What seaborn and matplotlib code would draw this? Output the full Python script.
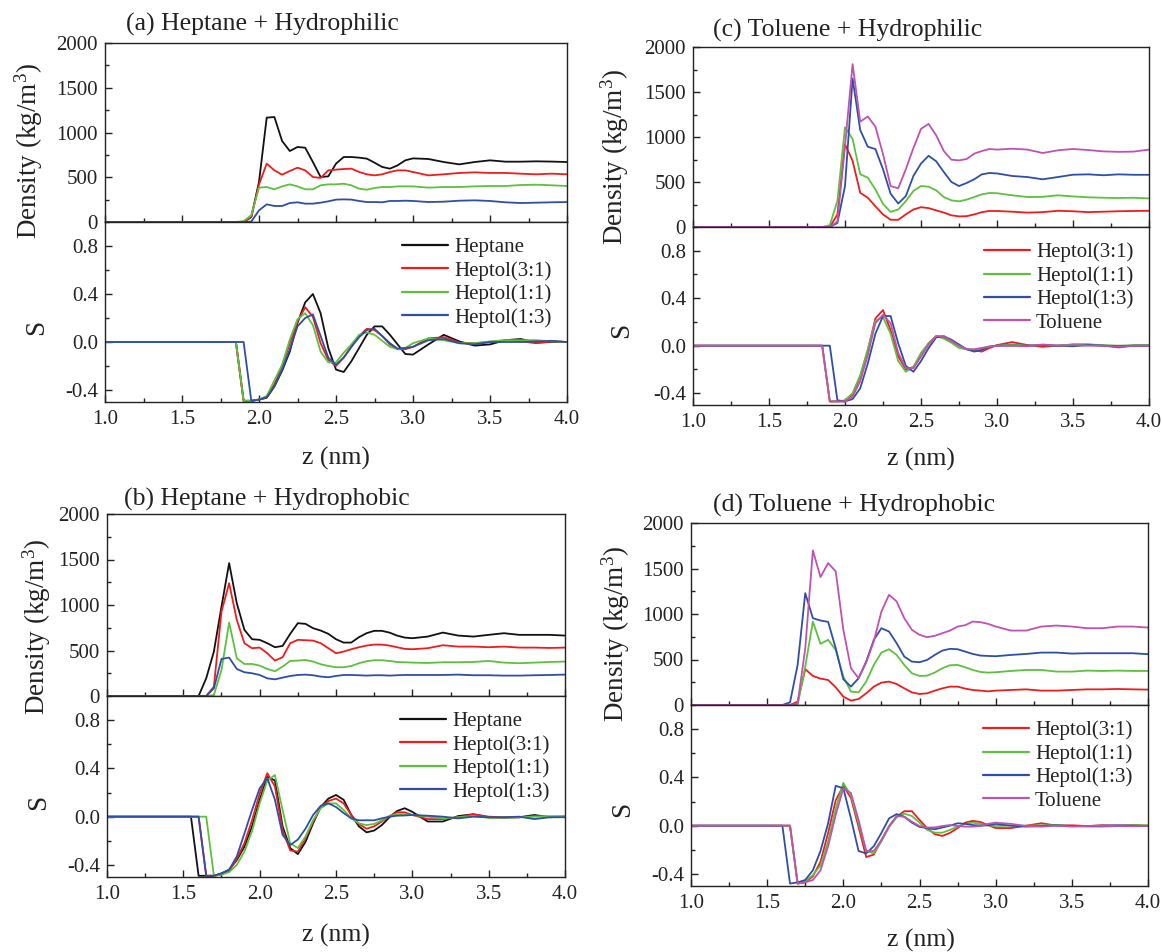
import numpy as np
import matplotlib
matplotlib.use("Agg")
import matplotlib.pyplot as plt
from matplotlib.ticker import MultipleLocator, FormatStrFormatter
import seaborn as sns

# ---------------------------------------------------------------------------
# Sampling grids (nm). Profiles are flat zero before the interface region.
# ---------------------------------------------------------------------------
z_hydrophilic = [1.0, 1.85, 1.90, 1.95, 2.00, 2.05, 2.10, 2.15, 2.20, 2.25, 2.30,
                 2.35, 2.40, 2.45, 2.50, 2.55, 2.60, 2.65, 2.70, 2.75, 2.80, 2.85,
                 2.90, 2.95, 3.00, 3.1, 3.2, 3.3, 3.4, 3.5, 3.6, 3.7, 3.8, 3.9, 4.0]
z_hydrophobic = [1.0, 1.50, 1.55, 1.60, 1.65, 1.70, 1.75, 1.80, 1.85, 1.90, 1.95,
                 2.00, 2.05, 2.10, 2.15, 2.20, 2.25, 2.30, 2.35, 2.40, 2.45, 2.50,
                 2.55, 2.60, 2.65, 2.70, 2.75, 2.80, 2.85, 2.90, 2.95, 3.00,
                 3.1, 3.2, 3.3, 3.4, 3.5, 3.6, 3.7, 3.8, 3.9, 4.0]

# ---------------------------------------------------------------------------
# (a) Heptane + Hydrophilic
# ---------------------------------------------------------------------------
a_rho_heptane = [0, 0, 0, 55, 447, 1166, 1173, 905, 793, 838, 830, 670, 503, 510, 652,
                 726, 726, 719, 708, 663, 615, 596, 633, 689, 711,
                 704, 670, 644, 670, 689, 674, 674, 678, 675, 670]
a_rho_heptol31 = [0, 0, 0, 60, 420, 652, 577, 529, 570, 607, 577, 503, 492, 577, 585,
                  592, 596, 559, 533, 521, 533, 559, 577, 577, 559,
                  521, 533, 548, 555, 548, 548, 540, 533, 540, 533]
a_rho_heptol11 = [0, 0, 10, 75, 384, 391, 365, 398, 421, 398, 365, 365, 410, 421, 421,
                  428, 410, 372, 361, 380, 391, 391, 398, 398, 398,
                  384, 391, 391, 398, 402, 402, 413, 417, 410, 402]
a_rho_heptol13 = [0, 0, 0, 5, 130, 197, 179, 179, 212, 220, 205, 205, 216, 231, 250,
                  253, 250, 235, 223, 223, 220, 235, 235, 238, 235,
                  223, 227, 238, 242, 235, 220, 212, 216, 220, 223]
a_s_heptane = [0, 0, -0.49, -0.49, -0.48, -0.465, -0.37, -0.24, -0.08, 0.16, 0.33, 0.40,
               0.24, -0.05, -0.23, -0.25, -0.16, -0.05, 0.06, 0.13, 0.13, 0.06, -0.02,
               -0.10, -0.105,
               -0.02, 0.06, 0.005, -0.03, -0.02, 0.015, 0.025, -0.005, 0.0, 0.0]
a_s_heptol31 = [0, 0, -0.49, -0.49, -0.48, -0.46, -0.35, -0.20, -0.01, 0.17, 0.29, 0.21,
                -0.01, -0.15, -0.20, -0.13, -0.04, 0.05, 0.11, 0.10, 0.05, -0.02, -0.06,
                -0.06, -0.04,
                0.03, 0.04, -0.005, -0.01, 0.0, 0.015, 0.005, -0.01, 0.005, 0.0]
a_s_heptol11 = [0, 0, -0.49, -0.49, -0.48, -0.45, -0.32, -0.19, 0.02, 0.19, 0.24, 0.14,
                -0.08, -0.17, -0.17, -0.09, -0.02, 0.06, 0.08, 0.06, 0.01, -0.04, -0.06,
                -0.05, -0.01,
                0.03, 0.015, -0.01, -0.01, 0.005, 0.015, 0.015, 0.015, 0.005, 0.0]
a_s_heptol13 = [0, 0, 0, -0.49, -0.48, -0.46, -0.37, -0.23, -0.06, 0.13, 0.20, 0.23,
                0.05, -0.13, -0.19, -0.13, -0.04, 0.04, 0.10, 0.11, 0.05, -0.01, -0.055,
                -0.05, -0.04,
                0.015, 0.025, -0.01, -0.02, 0.0, 0.0, 0.0, 0.005, 0.01, 0.0]

# ---------------------------------------------------------------------------
# (c) Toluene + Hydrophilic
# ---------------------------------------------------------------------------
c_rho_heptol31 = [0, 0, 0, 140, 920, 735, 380, 325, 230, 140, 80, 80, 140, 195, 220,
                  210, 185, 160, 130, 118, 120, 140, 165, 178, 178,
                  170, 160, 165, 180, 175, 165, 170, 175, 178, 180]
c_rho_heptol11 = [0, 0, 20, 290, 1108, 978, 586, 548, 418, 257, 168, 194, 287, 400, 455,
                  448, 407, 333, 296, 285, 304, 333, 363, 378, 375,
                  352, 333, 335, 352, 340, 330, 325, 322, 325, 318]
c_rho_heptol13 = [0, 0, 0, 45, 455, 1650, 1078, 892, 866, 642, 370, 261, 343, 567, 705,
                  791, 730, 611, 500, 455, 489, 530, 585, 600, 595,
                  567, 555, 530, 555, 581, 585, 575, 585, 580, 580]
c_rho_toluene = [0, 0, 0, 60, 900, 1810, 1170, 1228, 1115, 810, 455, 430, 642, 877, 1090,
                 1146, 1018, 844, 748, 740, 755, 815, 844, 867, 860,
                 870, 860, 822, 852, 867, 855, 840, 835, 838, 860]
c_s_heptol31 = [0, 0, -0.47, -0.47, -0.47, -0.41, -0.26, -0.04, 0.23, 0.30, 0.13, -0.09,
                -0.20, -0.18, -0.09, 0.02, 0.08, 0.07, 0.04, 0.0, -0.03, -0.04, -0.05,
                -0.02, 0.005,
                0.03, 0.005, -0.01, 0.0, 0.01, 0.01, 0.0, -0.015, 0.0, 0.0]
c_s_heptol11 = [0, 0, -0.47, -0.47, -0.46, -0.40, -0.25, -0.03, 0.21, 0.24, 0.10, -0.13,
                -0.22, -0.18, -0.06, 0.02, 0.08, 0.06, 0.025, -0.02, -0.03, -0.035, -0.02,
                -0.005, 0.0,
                0.01, 0.0, 0.005, 0.0, 0.01, 0.01, 0.005, 0.0, 0.005, 0.005]
c_s_heptol13 = [0, 0, 0, -0.46, -0.47, -0.45, -0.36, -0.15, 0.10, 0.25, 0.25, 0.02,
                -0.17, -0.22, -0.13, -0.02, 0.07, 0.08, 0.05, 0.01, -0.03, -0.05, -0.035,
                -0.01, 0.0,
                0.0, 0.0, 0.005, 0.0, -0.005, 0.005, 0.0, -0.005, 0.0, 0.0]
c_s_toluene = [0, 0, -0.47, -0.47, -0.47, -0.43, -0.30, -0.08, 0.19, 0.26, 0.19, -0.06,
               -0.19, -0.19, -0.09, 0.01, 0.08, 0.08, 0.04, 0.0, -0.03, -0.03, -0.02,
               -0.01, 0.0,
               0.0, -0.005, 0.01, 0.0, 0.005, 0.0, 0.0, -0.01, 0.0, 0.0]

# ---------------------------------------------------------------------------
# (b) Heptane + Hydrophobic
# ---------------------------------------------------------------------------
b_rho_heptane = [0, 0, 0, 0, 195, 488, 983, 1460, 1020, 727, 624, 617, 580, 536, 550,
                 683, 800, 793, 745, 719, 683, 624, 587, 587, 646, 690, 716, 716, 697,
                 664, 642, 635,
                 653, 697, 664, 653, 672, 690, 672, 672, 672, 664]
b_rho_heptol31 = [0, 0, 0, 0, 0, 103, 928, 1240, 837, 580, 525, 532, 470, 389, 426,
                  580, 617, 613, 609, 580, 525, 470, 488, 514, 536, 554, 565, 565, 554,
                  536, 518, 514,
                  525, 558, 543, 543, 536, 543, 532, 532, 528, 532]
b_rho_heptol11 = [0, 0, 0, 0, 0, 10, 286, 807, 415, 352, 352, 334, 297, 272, 323,
                  385, 389, 396, 378, 349, 330, 316, 316, 330, 360, 382, 393, 393, 385,
                  374, 371, 367,
                  363, 371, 371, 374, 385, 367, 360, 367, 374, 378]
b_rho_heptol13 = [0, 0, 0, 0, 0, 84, 407, 422, 297, 261, 250, 231, 194, 183, 202,
                  220, 231, 235, 228, 213, 206, 220, 231, 231, 228, 224, 228, 228, 224,
                  228, 231, 231,
                  231, 231, 235, 228, 228, 224, 224, 228, 231, 235]
b_s_heptane = [0, 0, 0, -0.49, -0.49, -0.49, -0.47, -0.44, -0.36, -0.25, -0.08, 0.14,
               0.33, 0.30, -0.08, -0.26, -0.31, -0.21, -0.055, 0.08, 0.15, 0.18, 0.14,
               0.014, -0.08, -0.13, -0.115, -0.07, -0.005, 0.047, 0.07, 0.04,
               -0.04, -0.04, 0.005, 0.02, -0.005, -0.008, -0.005, 0.014, -0.005, 0.0]
b_s_heptol31 = [0, 0, 0, 0, -0.49, -0.49, -0.48, -0.45, -0.35, -0.22, -0.03, 0.19,
                0.36, 0.25, -0.11, -0.28, -0.29, -0.18, -0.04, 0.08, 0.13, 0.15, 0.11,
                0.014, -0.06, -0.10, -0.08, -0.04, 0.005, 0.036, 0.036, 0.014,
                -0.02, -0.02, -0.005, 0.02, 0.0, -0.005, -0.005, 0.005, 0.0, 0.0]
b_s_heptol11 = [0, 0, 0, 0, 0, -0.49, -0.48, -0.46, -0.40, -0.29, -0.12, 0.11,
                0.30, 0.345, 0.055, -0.22, -0.26, -0.165, -0.03, 0.07, 0.11, 0.11, 0.055,
                -0.014, -0.055, -0.07, -0.06, -0.03, 0.005, 0.02, 0.02, 0.014,
                0.0, -0.014, -0.005, 0.005, -0.01, -0.008, -0.005, 0.0, 0.003, 0.005]
b_s_heptol13 = [0, 0, 0, 0, -0.49, -0.49, -0.47, -0.44, -0.33, -0.14, 0.055, 0.235,
                0.32, 0.14, -0.15, -0.235, -0.19, -0.10, 0.014, 0.09, 0.11, 0.08, 0.03,
                -0.014, -0.03, -0.03, -0.03, -0.014, 0.0, 0.008, 0.01, 0.014,
                0.008, 0.0, -0.014, 0.0, -0.005, -0.005, 0.0, -0.02, -0.005, -0.005]

# ---------------------------------------------------------------------------
# (d) Toluene + Hydrophobic
# ---------------------------------------------------------------------------
d_rho_heptol31 = [0, 0, 0, 0, 0, 37, 393, 319, 290, 275, 194, 92, 48, 66, 128,
                  202, 246, 257, 231, 183, 139, 121, 128, 158, 183, 202, 202, 180, 165,
                  158, 150, 158,
                  165, 172, 158, 158, 165, 172, 172, 176, 172, 169]
d_rho_heptol11 = [0, 0, 0, 0, 0, 0, 422, 917, 672, 716, 605, 312, 147, 139, 257,
                  440, 576, 613, 550, 440, 349, 319, 323, 356, 404, 437, 440, 415, 385,
                  363, 356, 360,
                  374, 385, 385, 367, 367, 378, 374, 378, 374, 374]
d_rho_heptol13 = [0, 0, 0, 0, 29, 440, 1229, 954, 928, 914, 624, 283, 202, 294, 477,
                  716, 844, 807, 679, 532, 477, 470, 495, 550, 598, 617, 613, 587, 561,
                  543, 539, 536,
                  550, 561, 576, 576, 565, 569, 569, 569, 569, 558]
d_rho_toluene = [0, 0, 0, 0, 0, 18, 620, 1699, 1406, 1560, 1468, 826, 404, 294, 466,
                 700, 1027, 1211, 1138, 954, 826, 771, 745, 760, 789, 818, 862, 877, 917,
                 910, 892, 862,
                 818, 818, 862, 873, 862, 844, 844, 862, 862, 851]
d_s_heptol31 = [0, 0, 0, 0, 0, -0.48, -0.47, -0.42, -0.30, -0.06, 0.21, 0.33,
                0.23, -0.01, -0.26, -0.24, -0.12, -0.01, 0.074, 0.12, 0.12, 0.047, -0.02,
                -0.07, -0.085, -0.06, -0.02, 0.025, 0.04, 0.03, 0.005, -0.02,
                -0.02, 0.0, 0.02, 0.0, 0.003, -0.003, 0.003, 0.0, 0.003, 0.0]
d_s_heptol11 = [0, 0, 0, 0, 0, -0.48, -0.46, -0.41, -0.33, -0.13, 0.14, 0.355,
                0.25, 0.02, -0.21, -0.23, -0.13, -0.01, 0.07, 0.10, 0.08, 0.025, -0.035,
                -0.058, -0.058, -0.035, -0.008, 0.015, 0.025, 0.015, 0.003, -0.003,
                0.0, 0.0, 0.003, 0.005, -0.003, -0.008, -0.008, -0.005, 0.005, 0.003]
d_s_heptol13 = [0, 0, 0, 0, -0.48, -0.47, -0.45, -0.37, -0.21, 0.02, 0.33, 0.31,
                0.06, -0.21, -0.23, -0.17, -0.06, 0.06, 0.096, 0.074, 0.025, -0.01, -0.02,
                -0.03, -0.015, 0.0, 0.02, 0.015, 0.005, 0.0, 0.003, 0.015,
                0.0, -0.008, -0.003, 0.003, -0.003, -0.003, 0.0, 0.003, 0.0, -0.003]
d_s_toluene = [0, 0, 0, 0, 0, -0.48, -0.47, -0.45, -0.37, -0.17, 0.09, 0.31,
               0.27, 0.047, -0.21, -0.21, -0.12, -0.003, 0.08, 0.074, 0.033, -0.003, -0.016,
               -0.014, -0.003, 0.005, -0.003, -0.008, -0.008, -0.003, 0.015, 0.025,
               0.015, -0.003, -0.008, 0.0, -0.008, -0.003, 0.0, -0.003, -0.005, -0.003]

heptane_labels = ["Heptane", "Heptol(3:1)", "Heptol(1:1)", "Heptol(1:3)"]
toluene_labels = ["Heptol(3:1)", "Heptol(1:1)", "Heptol(1:3)", "Toluene"]

BLACK, RED, GREEN, BLUE, MAGENTA = "#111111", "#ee1c1c", "#5ec03e", "#2f4fa6", "#c052b0"
heptane_colors = [BLACK, RED, GREEN, BLUE]
toluene_colors = [RED, GREEN, BLUE, MAGENTA]

# ---------------------------------------------------------------------------
sns.set_theme(style="ticks")
plt.rcParams["font.family"] = ["Liberation Serif", "DejaVu Serif"]
plt.rcParams["mathtext.default"] = "regular"
plt.rcParams["axes.unicode_minus"] = False

W, H = 1162, 952
fig = plt.figure(figsize=(W / 100, H / 100), dpi=100)
TXT = "#222222"


def box(x0, x1, y0, y1):
    return fig.add_axes([x0 / W, 1 - y1 / H, (x1 - x0) / W, (y1 - y0) / H])


def style(ax, ylim, ymaj, ymin, fmt, show_x):
    ax.set_xlim(1.0, 4.0)
    ax.set_ylim(*ylim)
    ax.xaxis.set_major_locator(MultipleLocator(0.5))
    ax.xaxis.set_minor_locator(MultipleLocator(0.25))
    ax.xaxis.set_major_formatter(FormatStrFormatter("%.1f"))
    ax.yaxis.set_major_locator(MultipleLocator(ymaj))
    ax.yaxis.set_minor_locator(MultipleLocator(ymin))
    ax.yaxis.set_major_formatter(FormatStrFormatter(fmt))
    ax.tick_params(which="both", direction="in", top=False, right=False,
                   color=TXT, width=1.0, labelsize=15, labelcolor=TXT,
                   labelbottom=show_x)
    ax.tick_params(axis="y", which="both", pad=5)
    ax.tick_params(axis="x", which="both", pad=6)
    ax.tick_params(which="major", length=5)
    ax.tick_params(which="minor", length=3)
    for sp in ax.spines.values():
        sp.set_linewidth(1.0)
        sp.set_color(TXT)
    ax.set_xlabel("")
    ax.set_ylabel("")


def draw_panel(rho_box, s_box, z, rho_sets, s_sets, labels, colors):
    ax_rho = box(*rho_box)
    ax_s = box(*s_box)
    for vals, col in zip(rho_sets, colors):
        sns.lineplot(x=z, y=vals, color=col, linewidth=1.3, ax=ax_rho,
                     estimator=None, sort=False)
    for vals, col, lab in zip(s_sets, colors, labels):
        sns.lineplot(x=z, y=vals, color=col, linewidth=1.3, ax=ax_s,
                     estimator=None, sort=False, label=lab)
    style(ax_rho, (0, 2000), 500, 250, "%d", False)
    style(ax_s, (-0.5, 1.0), 0.4, 0.2, "%.1f", True)
    leg = ax_s.legend(loc="upper right", bbox_to_anchor=(1.0, 1.0), frameon=False,
                      fontsize=15, handlelength=2.2, handletextpad=0.3,
                      labelspacing=0.18, borderaxespad=0.35)
    for t in leg.get_texts():
        t.set_color(TXT)
    for line in leg.get_lines():
        line.set_linewidth(1.6)
    return ax_rho, ax_s


draw_panel((105, 567, 43, 222), (105, 567, 222, 402), z_hydrophilic,
           [a_rho_heptane, a_rho_heptol31, a_rho_heptol11, a_rho_heptol13],
           [a_s_heptane, a_s_heptol31, a_s_heptol11, a_s_heptol13],
           heptane_labels, heptane_colors)
draw_panel((693, 1149, 47, 227), (693, 1149, 227, 405), z_hydrophilic,
           [c_rho_heptol31, c_rho_heptol11, c_rho_heptol13, c_rho_toluene],
           [c_s_heptol31, c_s_heptol11, c_s_heptol13, c_s_toluene],
           toluene_labels, toluene_colors)
draw_panel((107, 565, 514, 696), (107, 565, 696, 877), z_hydrophobic,
           [b_rho_heptane, b_rho_heptol31, b_rho_heptol11, b_rho_heptol13],
           [b_s_heptane, b_s_heptol31, b_s_heptol11, b_s_heptol13],
           heptane_labels, heptane_colors)
draw_panel((691, 1148, 523, 705), (691, 1148, 705, 886), z_hydrophobic,
           [d_rho_heptol31, d_rho_heptol11, d_rho_heptol13, d_rho_toluene],
           [d_s_heptol31, d_s_heptol11, d_s_heptol13, d_s_toluene],
           toluene_labels, toluene_colors)


def ftext(x, y, s, size, **kw):
    fig.text(x / W, 1 - y / H, s, fontsize=size, color=TXT, **kw)


titles = [(126, 24, "(a) Heptane + Hydrophilic"), (713, 30, "(c) Toluene + Hydrophilic"),
          (124, 499, "(b) Heptane + Hydrophobic"), (713, 505, "(d) Toluene + Hydrophobic")]
for x, y, s in titles:
    ftext(x, y, s, 18.5, ha="left", va="center")

density_label = "Density (kg/m$^{3}$)"
for x, y in [(29, 151), (615, 157), (37, 627), (616, 634)]:
    ftext(x, y, density_label, 19.5, ha="center", va="center", rotation=90)
for x, y in [(37, 327), (622, 330), (39, 802), (623, 809)]:
    ftext(x, y, "S", 19.5, ha="center", va="center", rotation=90)
for x, y in [(336, 458), (921, 459), (336, 935), (921, 940)]:
    ftext(x, y, "z (nm)", 18.5, ha="center", va="center")

fig.savefig("out.png", dpi=100)
